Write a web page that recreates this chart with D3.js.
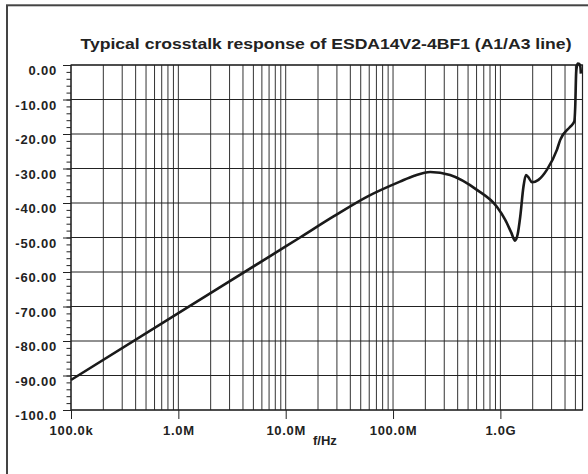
<!DOCTYPE html>
<html>
<head>
<meta charset="utf-8">
<script src="https://cdn.jsdelivr.net/npm/d3@7"></script>
<style>
  body { margin: 0; background: #fff; }
  text { font-family: "Liberation Sans", Arial, sans-serif; font-weight: bold; fill: #222; }
</style>
</head>
<body>
<svg id="canvas" width="588" height="474"></svg>
<script>
// frequency (Hz) and crosstalk (dB)
let freqs = [1e5, 1e6, 1e7, 1.36e7, 2.79e7, 5.70e7, 1.16e8, 1.58e8, 2.22e8, 3.40e8, 6.04e8,
             9.27e8, 1.11e9, 1.26e9, 1.37e9, 1.45e9, 1.53e9, 1.64e9, 1.73e9, 1.82e9, 1.97e9,
             2.26e9, 2.71e9, 3.36e9, 3.61e9, 4.47e9, 4.88e9, 4.98e9, 5.08e9, 5.15e9, 5.27e9,
             5.43e9, 5.56e9, 5.62e9]
let dbValues = [-91.3, -71.9, -52.6, -50.0, -43.9, -38.2, -33.8, -32.1, -31.0, -31.9, -36.2,
                -41.1, -44.9, -48.5, -50.9, -49.0, -44.0, -35.3, -31.9, -32.5, -34.0,
                -33.3, -30.4, -24.6, -21.7, -17.9, -16.4, -12.1, -2.4, -0.5, 0.4,
                0.3, -0.5, -2.5]

let xTicks = [1e5, 1e6, 1e7, 1e8, 1e9]
let xTickLabels = ['100.0k', '1.0M', '10.0M', '100.0M', '1.0G']
let yTicks = [0, -10, -20, -30, -40, -50, -60, -70, -80, -90, -100]
let yTickLabels = ['0.00', '-10.00', '-20.00', '-30.00', '-40.00', '-50.00', '-60.00', '-70.00', '-80.00', '-90.00', '-100.0']

let titleText = 'Typical crosstalk response of ESDA14V2-4BF1 (A1/A3 line)'
let xLabel = 'f/Hz'

let plotLeft = 71, plotRight = 582.5, plotTop = 65, plotBottom = 410

let canvas = d3.select('#canvas')

// outer frame
canvas.append('rect')
    .attr('x', 7).attr('y', 5.3)
    .attr('width', 600).attr('height', 500)
    .attr('fill', 'none').attr('stroke', '#444').attr('stroke-width', 2)

let xScale = d3.scaleLog().domain([1e5, 5.82e9]).range([plotLeft, plotRight])
let yScale = d3.scaleLinear().domain([-100, 0]).range([plotBottom, plotTop])

// vertical grid (every 1..9 per decade)
let gridX = []
for (let d = 1e5; d < 6e9; d *= 10) {
    for (let k = 1; k < 10; k++) {
        if (d * k <= 5.82e9) gridX.push(d * k)
    }
}
canvas.append('g').selectAll('line')
    .data(gridX)
    .enter()
    .append('line')
    .attr('x1', (f) => xScale(f)).attr('x2', (f) => xScale(f))
    .attr('y1', plotTop).attr('y2', plotBottom)
    .attr('stroke', '#333').attr('stroke-width', 1)

// horizontal grid
canvas.append('g').selectAll('line')
    .data(yTicks)
    .enter()
    .append('line')
    .attr('x1', plotLeft).attr('x2', plotRight)
    .attr('y1', (v) => yScale(v)).attr('y2', (v) => yScale(v))
    .attr('stroke', '#222').attr('stroke-width', 1)

// plot frame
canvas.append('rect')
    .attr('x', plotLeft).attr('y', plotTop)
    .attr('width', plotRight - plotLeft).attr('height', plotBottom - plotTop)
    .attr('fill', 'none').attr('stroke', '#222').attr('stroke-width', 1.2)

// y axis with minor ticks
let yMinor = d3.range(-100, 0.1, 2)
canvas.append('g')
    .attr('transform', 'translate(' + plotLeft + ',0)')
    .call(d3.axisLeft(yScale).tickValues(yMinor).tickSize(4.5).tickFormat(''))
    .call(g => g.select('.domain').remove())
    .call(g => g.selectAll('line').attr('stroke', '#222'))

let yAxis = canvas.append('g')
    .attr('transform', 'translate(' + plotLeft + ',0)')
    .call(d3.axisLeft(yScale).tickValues(yTicks).tickSize(8).tickPadding(5)
        .tickFormat((v, i) => yTickLabels[i]))
yAxis.select('.domain').remove()
yAxis.selectAll('line').attr('stroke', '#222')
yAxis.selectAll('text')
    .attr('dy', '0.75em')
    .attr('y', 0)
    .attr('x', -14)
    .style('font-size', '13px')
    .style('letter-spacing', '0.8px')

// x axis
let xAxis = canvas.append('g')
    .attr('transform', 'translate(0,' + plotBottom + ')')
    .call(d3.axisBottom(xScale).tickValues(xTicks).tickSize(9).tickPadding(7)
        .tickFormat((v, i) => xTickLabels[i]))
xAxis.select('.domain').remove()
xAxis.selectAll('line').attr('stroke', '#222')
xAxis.selectAll('text')
    .style('font-size', '13px')
    .style('letter-spacing', '0.7px')

// curve
let points = freqs.map((f, i) => [f, dbValues[i]])
let line = d3.line()
    .x((p) => xScale(p[0]))
    .y((p) => yScale(p[1]))
    .curve(d3.curveMonotoneX)
canvas.append('path')
    .datum(points)
    .attr('d', line)
    .attr('fill', 'none')
    .attr('stroke', '#1a1a1a')
    .attr('stroke-width', 2.6)
    .attr('stroke-linejoin', 'round')

// title and axis label
canvas.append('text')
    .attr('x', 80.5).attr('y', 48.5)
    .attr('textLength', 491).attr('lengthAdjust', 'spacingAndGlyphs')
    .style('font-size', '15px')
    .text(titleText)

canvas.append('text')
    .attr('x', 313).attr('y', 445)
    .style('font-size', '13px')
    .text(xLabel)
</script>
</body>
</html>
